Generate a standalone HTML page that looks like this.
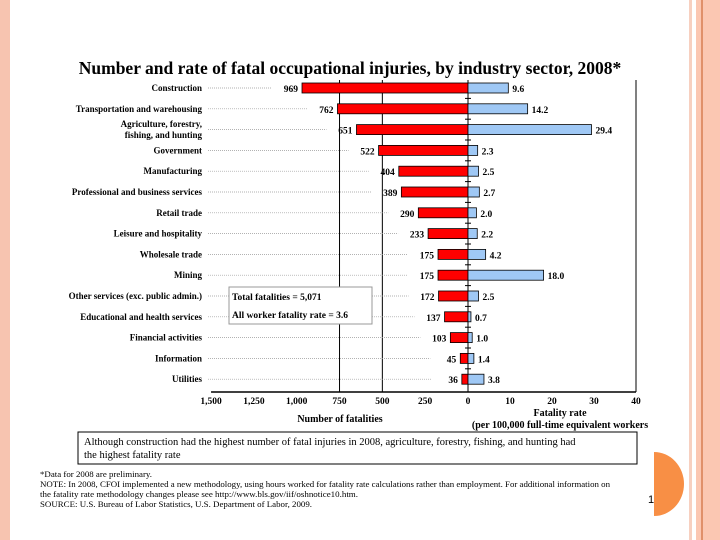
<!DOCTYPE html>
<html><head><meta charset="utf-8"><style>
body{margin:0;width:720px;height:540px;overflow:hidden;background:#fff;font-family:"Liberation Serif",serif;}
svg{position:absolute;left:0;top:0}
</style></head><body>
<svg id="s" width="720" height="540">
<rect x="0" y="0" width="10" height="540" fill="#f7c4b0"/>
<rect x="689" y="0" width="3" height="540" fill="#f7d0c0"/>
<rect x="696" y="0" width="24" height="540" fill="#fbc7b2"/>
<rect x="701" y="0" width="2" height="540" fill="#e0906a"/>
<text x="350" y="74" text-anchor="middle" font-size="17.5" font-weight="bold">Number and rate of fatal occupational injuries, by industry sector, 2008*</text>
<g id="g"></g>
<text x="340" y="422" text-anchor="middle" font-size="10" font-weight="bold">Number of fatalities</text>
<text x="560" y="416" text-anchor="middle" font-size="10" font-weight="bold">Fatality rate</text>
<text x="560" y="428" text-anchor="middle" font-size="10" font-weight="bold">(per 100,000 full-time equivalent workers</text>
<rect x="229" y="287" width="143" height="37" fill="#fff" stroke="#999"/>
<text x="232" y="300" font-size="9.5" font-weight="bold">Total fatalities = 5,071</text>
<text x="232" y="318" font-size="9.5" font-weight="bold">All worker fatality rate = 3.6</text>
<rect x="78" y="432" width="559" height="32" fill="#fff" stroke="#000"/>
<text x="84" y="445" font-size="10.5">Although construction had the highest number of fatal injuries in 2008, agriculture, forestry, fishing, and hunting had</text>
<text x="84" y="458" font-size="10.5">the highest fatality rate</text>
<g font-size="8">
<text x="40" y="477" textLength="112" lengthAdjust="spacingAndGlyphs">*Data for 2008 are preliminary.</text>
<text x="40" y="487" textLength="570" lengthAdjust="spacingAndGlyphs">NOTE: In 2008, CFOI implemented a new methodology, using hours worked for fatality rate calculations rather than employment.  For additional information on</text>
<text x="40" y="497" textLength="318" lengthAdjust="spacingAndGlyphs">the fatality rate methodology changes please see http://www.bls.gov/iif/oshnotice10.htm.</text>
<text x="40" y="507" textLength="272" lengthAdjust="spacingAndGlyphs">SOURCE: U.S. Bureau of Labor Statistics, U.S. Department of Labor, 2009.</text>
</g>
<path d="M654,452 A30,32 0 0 1 654,516 Z" fill="#f88f45"/>
<text x="648" y="503" font-size="11" font-family="Liberation Sans">1</text>
</svg>
<script>
const categories=["Construction","Transportation and warehousing","Agriculture, forestry,|fishing, and hunting","Government","Manufacturing","Professional and business services","Retail trade","Leisure and hospitality","Wholesale trade","Mining","Other services (exc. public admin.)","Educational and health services","Financial activities","Information","Utilities"];
const fatalities=[969,762,651,522,404,389,290,233,175,175,172,137,103,45,36];
const rates=[9.6,14.2,29.4,2.3,2.5,2.7,2.0,2.2,4.2,18.0,2.5,0.7,1.0,1.4,3.8];
const leftTicks=[1500,1250,1000,750,500,250,0];
const leftTickLabels=["1,500","1,250","1,000","750","500","250","0"];
const rightTicks=[10,20,30,40];
const NS="http://www.w3.org/2000/svg",g=document.getElementById('g');
const x0=468,xL=v=>x0-v*0.1713,xR=v=>x0+v*4.2;
const yTop=80,yAx=392,rowH=20.8;
const yRow=i=>88+i*rowH;
function el(t,a,txt){const e=document.createElementNS(NS,t);for(const k in a)e.setAttribute(k,a[k]);if(txt!=null)e.textContent=txt;g.appendChild(e);return e;}
[750,500].forEach(v=>{const e=el('line',{x1:xL(v),x2:xL(v),y1:yTop,y2:yAx,stroke:'#000'});

});
let e=el('line',{x1:xR(40),x2:xR(40),y1:yTop,y2:yAx,stroke:'#000'});


e=el('line',{x1:x0,x2:x0,y1:yTop,y2:yAx,stroke:'#000'});


e=el('line',{x1:xL(1500),x2:xR(40),y1:yAx,y2:yAx,stroke:'#000','stroke-width':1.5});


leftTicks.forEach((v,i)=>{const t=el('text',{x:xL(v),y:404,'text-anchor':'middle','font-size':9.5,'font-weight':'bold'},leftTickLabels[i]);

});
rightTicks.forEach(v=>{const t=el('text',{x:xR(v),y:404,'text-anchor':'middle','font-size':9.5,'font-weight':'bold'},String(v));

});
categories.forEach((c,i)=>{
 const y=yRow(i);const parts=c.split('|');
 parts.forEach((p,j)=>{const t=el('text',{x:202,y:y+3-(parts.length-1)*5.5+j*11,'text-anchor':'end','font-size':9,'font-weight':'bold'},p);
 
 });
 const bl=xL(fatalities[i]);
 const d=el('line',{x1:208,x2:bl-30,y1:y,y2:y,stroke:'#999','stroke-dasharray':'1,1','stroke-width':0.7});
 
 
 const r=el('rect',{x:bl,y:y-5,width:x0-bl,height:10,fill:'#ff0000',stroke:'#000','stroke-width':0.8});
 
 
 const lt=el('text',{x:bl-4,y:y+4,'text-anchor':'end','font-size':9.5,'font-weight':'bold'},String(fatalities[i]));
 
 
 const br=el('rect',{x:x0,y:y-5,width:xR(rates[i])-x0,height:10,fill:'#9fc8f5',stroke:'#000','stroke-width':0.8});
 
 
 const rt=el('text',{x:xR(rates[i])+4,y:y+4,'font-size':9.5,'font-weight':'bold'},rates[i].toFixed(1));
 
 
 if(i>0){const tk=el('line',{x1:x0-3,x2:x0+3,y1:y-rowH/2,y2:y-rowH/2,stroke:'#000'});
 
 }
});
</script>
</body></html>
